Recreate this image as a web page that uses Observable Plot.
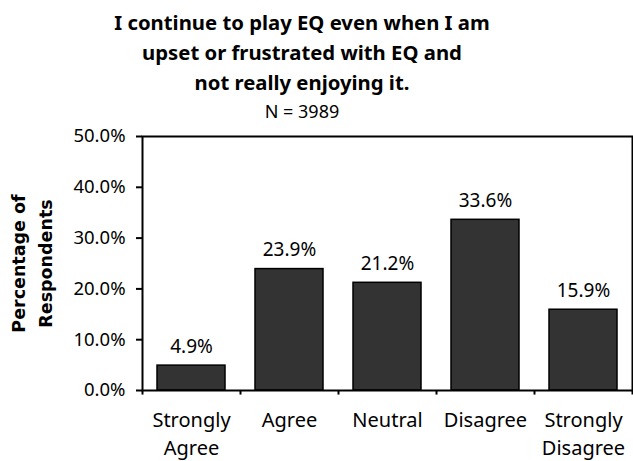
<!DOCTYPE html>
<html><head><meta charset="utf-8">
<script src="https://cdn.jsdelivr.net/npm/d3@7"></script>
<script src="https://cdn.jsdelivr.net/npm/@observablehq/plot@0.6"></script>
<style>
body{margin:0;background:#fff;font-family:"Noto Sans",sans-serif;}
#wrap{width:633px;height:461px;position:relative;overflow:hidden;}
#title{height:122px;box-sizing:border-box;padding-top:7px;width:604px;text-align:center;color:#000;}
#title .t{font-weight:bold;font-size:20.3px;line-height:30px;}
#title .n{font-size:18px;line-height:28px;}
#chart svg{display:block;}
</style></head><body>
<div id="wrap"><div id="title"><div class="t">I continue to play EQ even when I am<br>upset or frustrated with EQ and<br>not really enjoying it.</div><div class="n">N = 3989</div></div><div id="chart"></div></div>
<script>
const categories = ["Strongly Agree","Agree","Neutral","Disagree","Strongly Disagree"];
const tickLabels = ["Strongly\nAgree","Agree","Neutral","Disagree","Strongly\nDisagree"];
const values = [4.9,23.9,21.2,33.6,15.9];
const yTicks = [0,10,20,30,40,50];
const yLabel = "Percentage of\nRespondents";

const W=633,H=339,mL=142,mR=1,mT=14,mB=71;
const step=(W-mL-mR)/categories.length;
const data = categories.map((c,i)=>({cat:c,value:values[i],label:tickLabels[i]}));
const last = [categories[categories.length-1]];
const plot = Plot.plot({
  width:W,height:H,marginLeft:mL,marginRight:mR,marginTop:mT,marginBottom:mB,
  style:{fontFamily:"Noto Sans",fontSize:"18px",color:"#000",background:"#fff",overflow:"visible"},
  x:{domain:categories,paddingInner:0.31,paddingOuter:0.155,axis:null},
  y:{domain:[0,50],axis:null},
  marks:[
    Plot.barY(data,{x:"cat",y:"value",fill:"#333333",stroke:"#000",strokeWidth:1.5}),
    Plot.frame({stroke:"#000",strokeWidth:2}),
    Plot.axisY(yTicks,{tickSize:6,tickFormat:()=>"",stroke:"#000",strokeWidth:2,label:null}),
    Plot.text(yTicks,{y:d=>d,frameAnchor:"left",textAnchor:"end",dx:-17,text:d=>d.toFixed(1)+"%",fontSize:18.5,fill:"#000"}),
    Plot.ruleX(categories,{x:d=>d,dx:-step/2,y1:0,y2:-0.9,stroke:"#000",strokeWidth:2}),
    Plot.ruleX(last,{x:d=>d,dx:step/2,y1:0,y2:-0.9,stroke:"#000",strokeWidth:2}),
    Plot.text(data,{x:"cat",frameAnchor:"bottom",text:"label",lineAnchor:"top",dy:17,lineHeight:1.38,fontSize:20,fill:"#000"}),
    Plot.text(data,{x:"cat",y:"value",text:d=>d.value.toFixed(1)+"%",lineAnchor:"bottom",dy:-13,fontSize:19,fill:"#000"}),
    Plot.text([yLabel],{text:d=>d,frameAnchor:"left",textAnchor:"middle",rotate:-90,dx:-113,lineHeight:1.55,fontFamily:"DejaVu Sans",fontWeight:"bold",fontSize:17.5,fill:"#000"})
  ]
});
document.getElementById("chart").appendChild(plot);
</script>
</body></html>
